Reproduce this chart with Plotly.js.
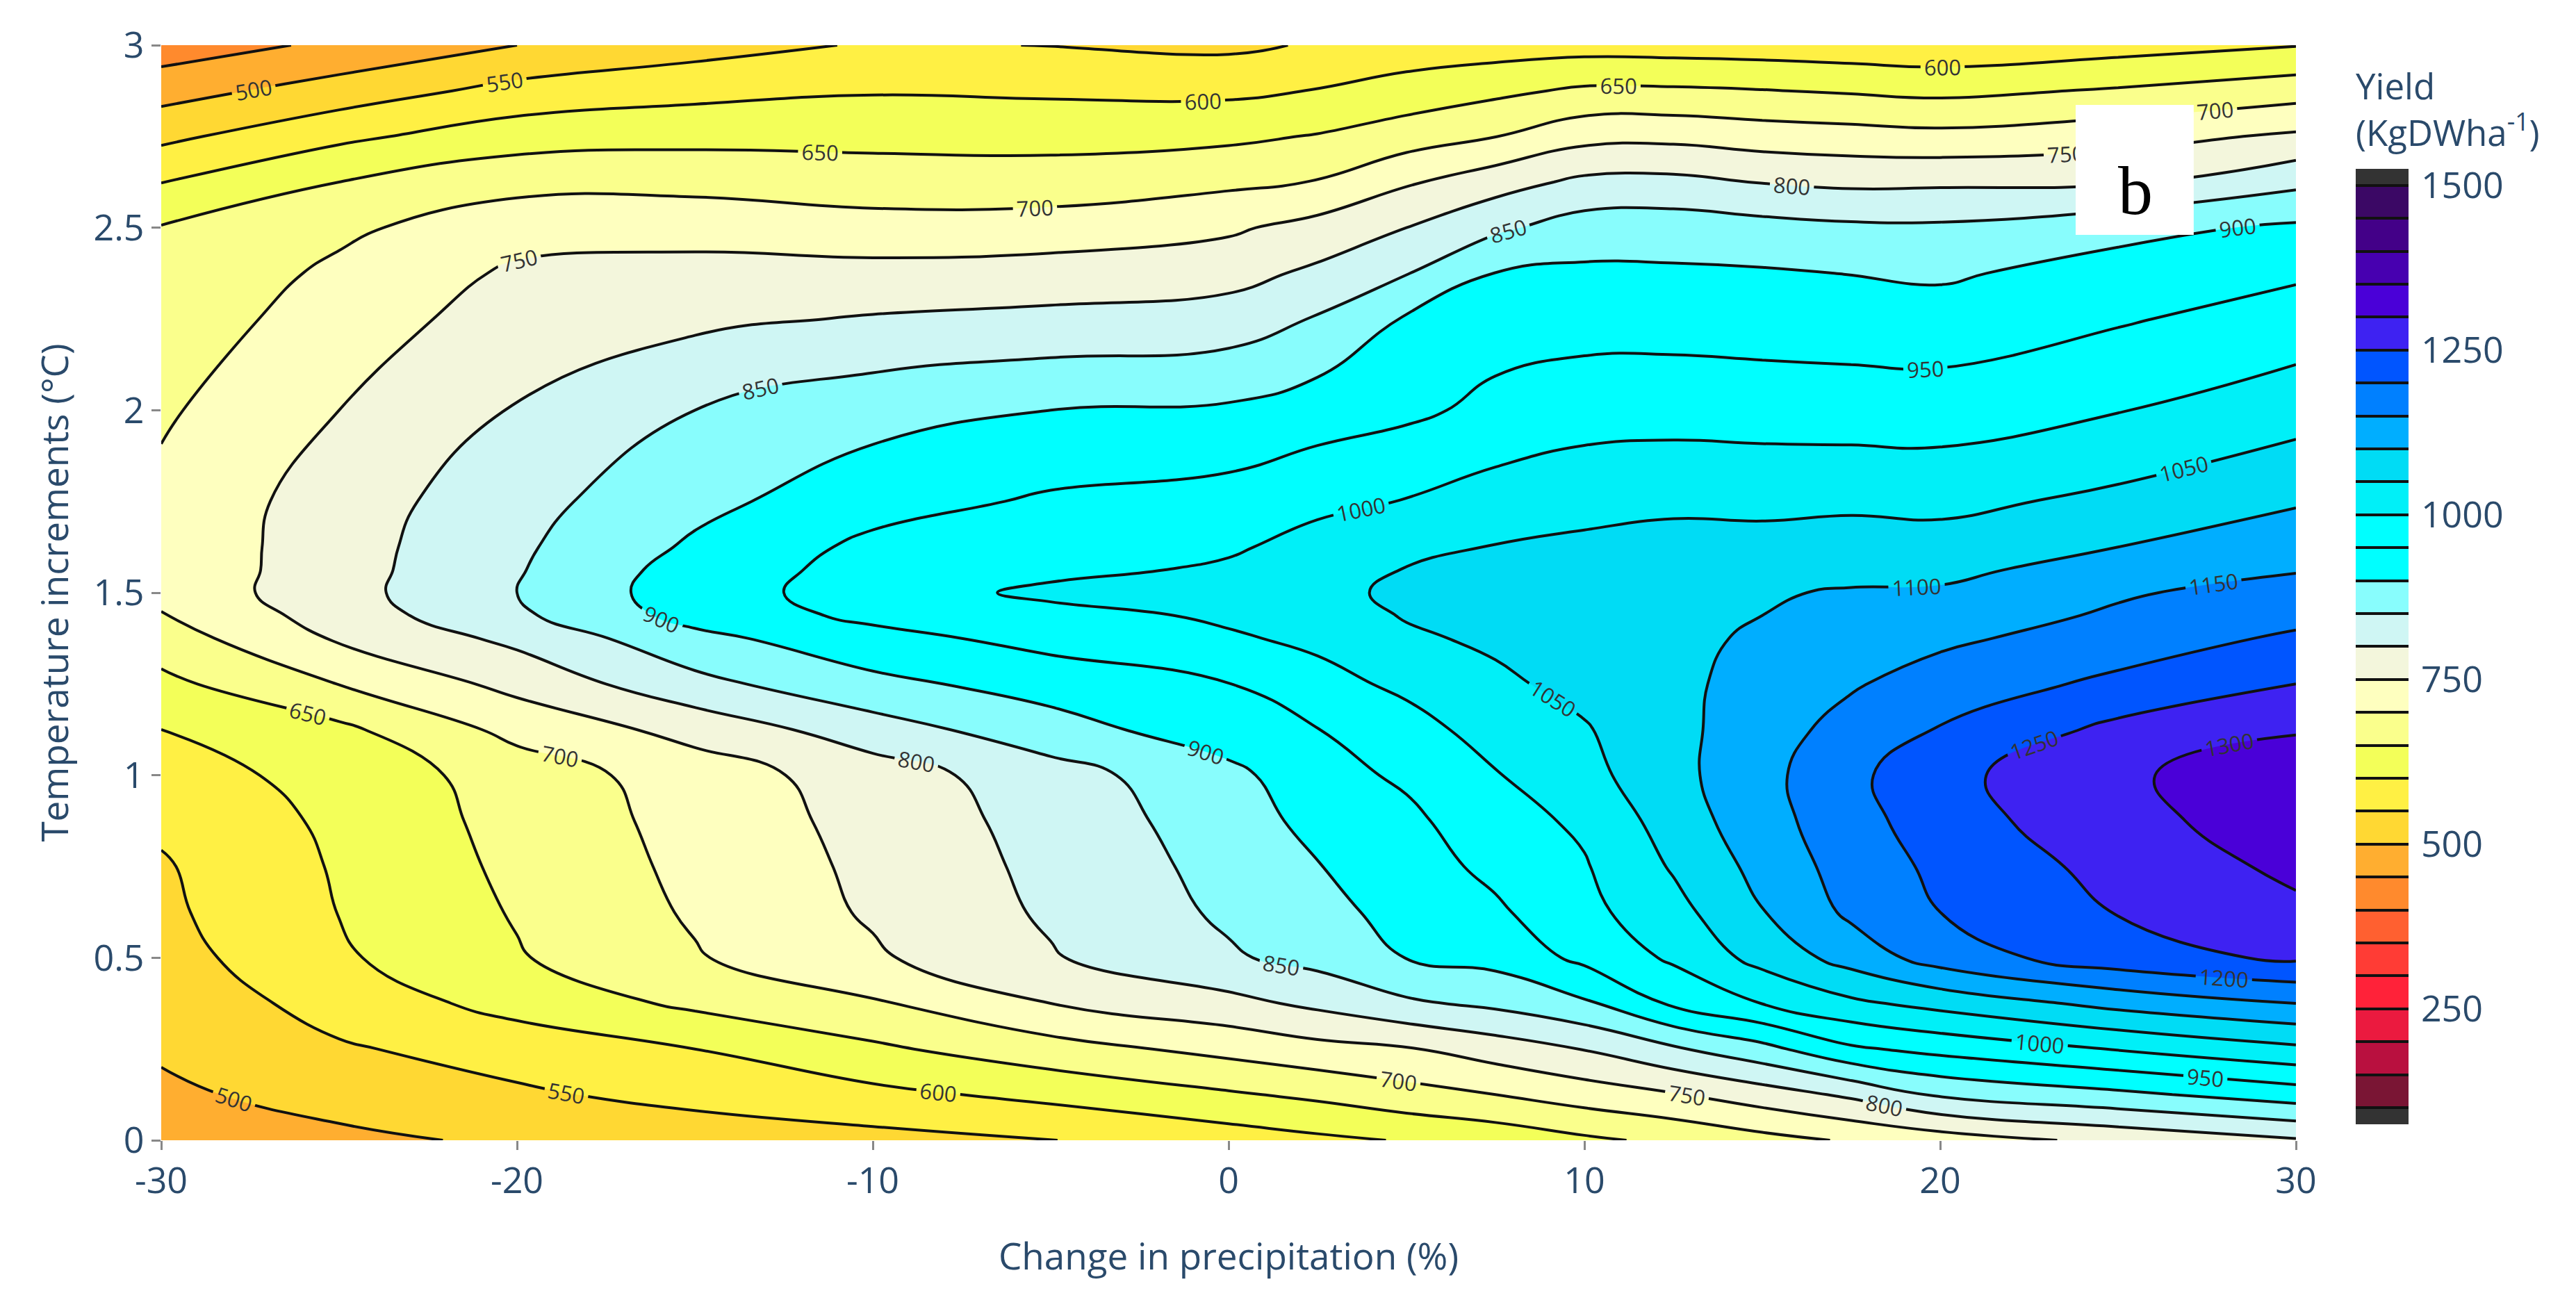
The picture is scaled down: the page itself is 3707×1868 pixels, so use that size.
<!DOCTYPE html>
<html>
<head>
<meta charset="utf-8">
<script src="https://cdn.plot.ly/plotly-3.0.1.min.js"></script>
<style>html,body{margin:0;padding:0;background:#fff}</style>
</head>
<body>
<div id="chart" style="width:3707px;height:1868px"></div>
<script>
const precip = [-30,-25,-20,-15,-10,-5,0,2.5,5,7.5,10,12.5,15,17.5,20,25,30];
const tempInc = [0,0.125,0.25,0.375,0.5,0.625,0.75,0.875,1,1.125,1.25,1.375,1.4375,1.5,1.5625,1.625,1.75,2,2.25,2.375,2.5,2.625,2.75,2.875,3];
const colM30 = [482,494,504,514,530,540,545,559,579,600,637,676,697,714,712,712,712,693,672,661,653,599,538,480,423];
const colM25 = [493,512,544,571,593,601,605,610,617,639,701,756,773,782,780,779,774,750,723,710,690,650,589,522,460];
const colM20 = [505,542,572,617,646,654,661,667,673,715,765,812,841,850,846,842,833,803,774,758,730,684,627,566,500];
const colM15 = [520,566,600,660,696,706,712,717,724,767,835,886,918,928,922,908,886,850,789,765,733,684,636,585,530];
const colM10 = [534,587,641,694,743,756,761,767,775,827,887,933,962,972,968,962,930,882,804,764,723,669,639,596,555];
const colM05 = [549,613,680,750,796,807,813,819,829,880,920,967,982,1012,986,977,957,900,813,770,725,670,636,592,549];
const colP00 = [575,644,715,785,844,858,866,875,886,928,949,994,1008,1030,1008,993,970,907,823,782,742,690,640,590,540];
const colP02 = [590,660,734,811,866,884,898,915,932,949,984,1010,1028,1043,1029,1018,988,926,854,810,768,702,653,602,555];
const colP05 = [603,682,746,842,901,917,928,939,958,982,1010,1043,1053,1055,1052,1036,1002,940,905,848,800,744,676,620,572];
const colP07 = [618,700,774,861,916,942,962,980,997,1019,1041,1058,1065,1066,1060,1052,1023,962,930,901,841,779,699,639,576];
const colP10 = [641,724,802,892,962,986,996,1009,1034,1046,1064,1075,1076,1076,1069,1059,1035,978,931,909,873,811,734,658,580];
const colP12 = [660,746,843,958,1008,1033,1055,1073,1085,1086,1088,1090,1090,1088,1077,1068,1039,981,930,907,876,813,737,657,578];
const colP15 = [684,776,884,1001,1067,1098,1116,1131,1135,1128,1119,1106,1100,1097,1083,1066,1038,978,927,905,867,798,726,652,575];
const colP17 = [705,809,942,1040,1120,1160,1172,1180,1188,1168,1145,1122,1112,1103,1090,1075,1039,976,924,899,859,790,720,645,570];
const colP20 = [725,857,965,1066,1173,1200,1211,1228,1236,1203,1173,1140,1128,1105,1090,1070,1037,975,921,893,858,792,714,638,565];
const colP25 = [763,889,1003,1116,1229,1252,1267,1283,1290,1263,1211,1174,1156,1145,1118,1100,1062,998,945,920,885,793,731,655,580];
const colP30 = [795,925,1040,1150,1258,1290,1311,1328,1338,1295,1250,1208,1186,1167,1147,1130,1095,1029,971,943,908,838,758,678,598];
const columns = [colM30,colM25,colM20,colM15,colM10,colM05,colP00,colP02,colP05,colP07,colP10,colP12,colP15,colP17,colP20,colP25,colP30];
const bandColors = ['#333333','#7a1534','#b9103f','#eb1a3f','#ff2239','#ff3c35','#ff6030','#ff8a2d','#ffae30','#ffd833','#fff044','#f3ff59','#faff8c','#feffbf','#f3f6dc','#cff6f4','#88fdfd','#00ffff','#00ffff','#00f0f8','#00dcf5','#00aeff','#0080ff','#0055ff','#3e22f2','#4a00d8','#4700b0','#430088','#3b0865','#333333'];
const xTicks = [-30,-20,-10,0,10,20,30];
const xTickText = ['-30','-20','-10','0','10','20','30'];
const yTicks = [0,0.5,1,1.5,2,2.5,3];
const yTickText = ['0','0.5','1','1.5','2','2.5','3'];

const z = tempInc.map((_, r) => columns.map(c => c[r]));
const scale = bandColors.map((c, i) => [i / (bandColors.length - 1), c]);
const ink = '#2a4a6b';
const family = '"Open Sans", sans-serif';

const trace = {
  type: 'contour', x: precip, y: tempInc, z: z,
  colorscale: scale,
  autocontour: false,
  contours: {start: 100, end: 1500, size: 50, coloring: 'fill', showlabels: true,
             labelfont: {size: 31, color: '#333', family: family}},
  line: {color: '#111', width: 4, smoothing: 1.3},
  colorbar: {
    thickness: 76, thicknessmode: 'pixels',
    len: 0.962, lenmode: 'fraction',
    x: 1.028, xanchor: 'left', xpad: 0,
    y: 0.0146, yanchor: 'bottom', ypad: 0,
    outlinewidth: 0,
    ticks: 'outside', ticklen: 8, tickcolor: 'rgba(0,0,0,0)',
    tick0: 0, dtick: 250,
    tickfont: {size: 52, color: ink, family: family},
    title: {text: 'Yield<br>(KgDWha<sup>-1</sup>)', side: 'top', font: {size: 51, color: ink, family: family}}
  }
};

const layout = {
  width: 3707, height: 1868,
  margin: {l: 232, r: 403, t: 65, b: 227, pad: 0},
  paper_bgcolor: '#fff', plot_bgcolor: '#fff',
  font: {family: family, color: ink, size: 52},
  xaxis: {
    range: [-30, 30], tickmode: 'array', tickvals: xTicks, ticktext: xTickText,
    showgrid: false, zeroline: false, showline: false,
    ticks: 'outside', ticklen: 13, tickwidth: 3, tickcolor: '#888',
    tickfont: {size: 52, color: ink, family: family},
    title: {text: 'Change in precipitation (%)', font: {size: 53, color: ink, family: family}, standoff: 58}
  },
  yaxis: {
    range: [0, 3], tickmode: 'array', tickvals: yTicks, ticktext: yTickText,
    showgrid: false, zeroline: false, showline: false,
    ticks: 'outside', ticklen: 13, tickwidth: 3, tickcolor: '#888',
    tickfont: {size: 52, color: ink, family: family},
    title: {text: 'Temperature increments (°C)', font: {size: 53, color: ink, family: family}, standoff: 18}
  },
  shapes: [{type: 'rect', xref: 'paper', yref: 'paper', layer: 'above',
            x0: 0.8968, x1: 0.9521, y0: 0.8268, y1: 0.9454,
            fillcolor: '#fff', line: {width: 0}}],
  annotations: [{xref: 'paper', yref: 'paper', x: 0.9335, y: 0.9038, showarrow: false,
                 text: 'b', font: {family: '"Liberation Serif", serif', size: 100, color: '#000'}}]
};

Plotly.newPlot('chart', [trace], layout, {displayModeBar: false, responsive: false});
</script>
</body>
</html>
